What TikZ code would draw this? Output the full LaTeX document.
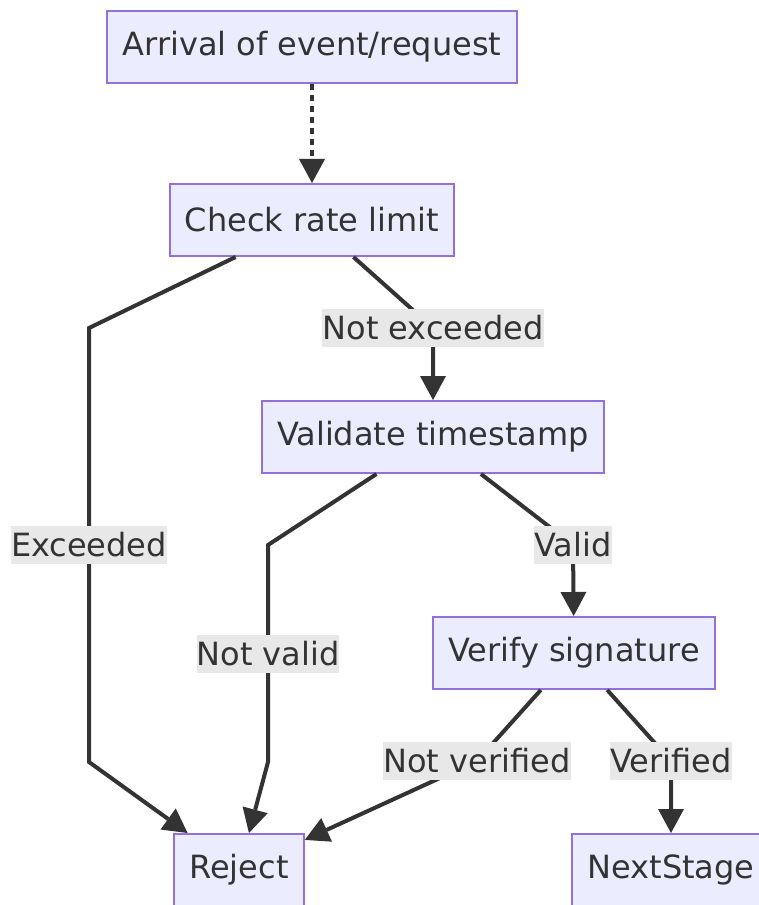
\documentclass[tikz,border=0pt]{standalone}
\usepackage{fontspec}
\setmainfont{DejaVu Sans}
\usepackage{xcolor}
\usetikzlibrary{arrows.meta}

\definecolor{boxfill}{HTML}{ECECFF}
\definecolor{boxline}{HTML}{9370DB}
\definecolor{ink}{HTML}{333333}
\definecolor{lblfill}{HTML}{E8E8E8}

\tikzset{
	stage/.style={draw=boxline, fill=boxfill, line width=1.5pt, text=ink,
		minimum height=54pt, inner xsep=11.4pt},
	lbl/.style={fill=lblfill, text=ink, inner xsep=0pt, minimum height=28.5pt},
}

\begin{document}
\begin{tikzpicture}[x=0.75pt,y=-0.75pt,font=\fontsize{24pt}{28pt}\selectfont]
	\useasboundingbox (0,0) rectangle (758,905);
	\node[stage] (arrival) at (312,47) {Arrival of event/request};
	\node[stage] (check) at (312,220) {Check rate limit};
	\node[stage] (validate) at (433,437) {Validate timestamp};
	\node[stage] (verify) at (574,653) {Verify signature};
	\node[stage] (reject) at (239,870) {Reject};
	\node[stage] (nextstage) at (671,870) {NextStage};
	%
	\path[->,draw,color=ink,line width=3pt,dash pattern=on 4.5pt off 3.8pt,>={Triangle[length=18pt,width=19.5pt,line width=0pt]}]
	(arrival) edge (check);
	%
	\begin{scope}[->,color=ink,line width=3pt,>={Triangle[length=18pt,width=19.5pt,line width=0pt]}]
	\draw (check) -- (89,328) -- node[lbl]{Exceeded} (89,762) -- (reject);
	\draw (check) -- (433,328) node[lbl]{Not exceeded} -- (validate);
	\draw (validate) -- (268,545) -- node[lbl]{Not valid} (268,762) -- (reject);
	\draw (validate) -- (573,545) node[lbl]{Valid} -- (verify);
	\draw (verify) -- (477,761) node[lbl]{Not verified} -- (reject);
	\draw (verify) -- (671,761) node[lbl]{Verified} -- (nextstage);
	\end{scope}
\end{tikzpicture}
\end{document}
